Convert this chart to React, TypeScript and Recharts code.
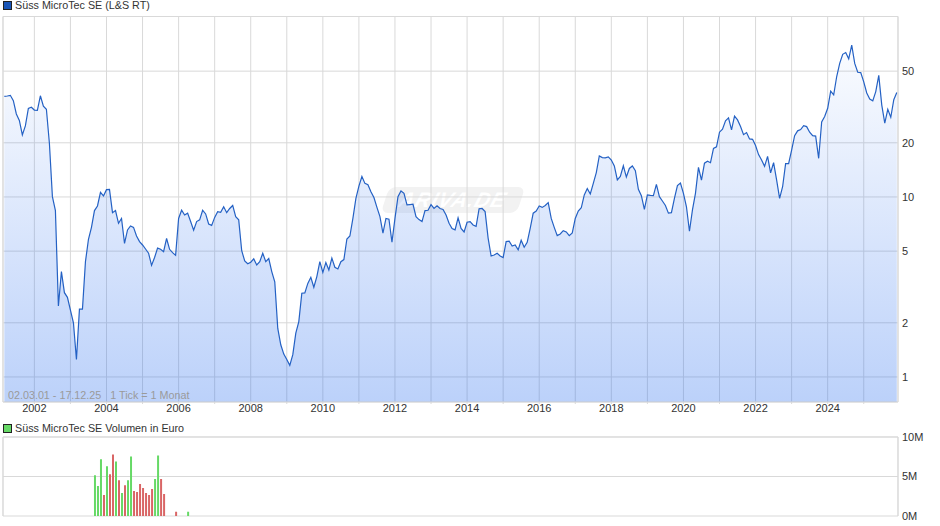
import React from "react";
import { ComposedChart, Area, Bar, XAxis, YAxis, CartesianGrid, ReferenceLine } from "recharts";

const TITLE = "Süss MicroTec SE (L&S RT)";
const VOLUME_TITLE = "Süss MicroTec SE Volumen in Euro";
const RANGE_NOTE = "02.03.01 - 17.12.25   1 Tick = 1 Monat";
const WATERMARK = "ARIVA.DE";

// Monthly closes, index 0 = March 2001, last = December 2025
const prices2001to2009 = [
  36.2, 36.4, 36.7, 34.3, 28.9, 26.6, 22.1, 24.8, 31.0, 31.5,
  30.4, 30.3, 36.5, 31.9, 30.7, 19.9, 10.04, 8.4, 2.48, 3.85, 2.94, 2.77,
  2.35, 2.0, 1.25, 2.38, 2.38, 4.37, 5.82, 6.78, 8.4, 8.91, 10.6, 10.13,
  10.98, 11.03, 8.18, 8.4, 7.14, 7.6, 5.52, 6.56, 6.9, 6.78, 6.07, 5.65,
  5.41, 5.14, 4.87, 4.17, 4.61, 5.2, 5.12, 4.97, 5.88, 5.12, 4.91, 4.74,
  7.6, 8.44, 7.94, 8.13, 7.3, 6.53, 7.3, 7.46, 8.44, 8.05, 7.08, 6.95,
  7.7, 8.29, 8.21, 8.82, 8.18, 8.63, 8.97, 7.78, 7.46, 5.03, 4.41, 4.26,
  4.34, 4.53, 4.19, 4.37, 4.87, 4.37, 4.55, 3.85, 3.38, 1.86, 1.51, 1.34,
  1.25, 1.16, 1.33, 1.75, 2.03, 2.92, 2.93, 3.31, 3.58, 3.15, 3.61, 4.37,
];
const prices2010to2018 = [
  3.81, 4.32, 3.93, 4.57, 4.07, 3.98, 4.37, 4.49, 5.84, 6.07, 7.6, 9.83,
  11.5, 13.0, 11.9, 11.7, 10.7, 9.92, 8.75, 7.78, 6.29, 7.6, 7.53, 5.6,
  7.6, 10.04, 10.8, 10.48, 9.03, 9.07, 9.11, 7.78, 7.49, 7.3, 8.4, 8.44,
  9.07, 8.63, 8.93, 8.63, 8.52, 7.94, 7.14, 6.67, 6.56, 7.66, 6.69, 6.39,
  7.24, 7.3, 6.99, 6.87, 8.6, 8.63, 8.29, 5.91, 4.7, 4.76, 4.87, 4.7,
  4.61, 5.65, 5.68, 5.34, 5.41, 5.08, 5.75, 5.26, 5.6, 6.69, 8.13, 8.36,
  8.91, 8.75, 8.97, 9.3, 7.6, 6.78, 6.1, 6.23, 6.5, 6.39, 6.1, 6.31,
  7.6, 8.36, 8.71, 10.26, 11.13, 10.39, 11.9, 13.66, 16.9, 16.55, 16.5, 16.7,
  16.05, 14.87, 12.44, 13.0, 14.9, 12.9, 14.4, 14.87, 14.0, 11.03, 10.17, 8.52,
];
const prices2019to2025 = [
  10.26, 10.2, 10.17, 11.76, 10.04, 9.5, 8.97, 8.13, 8.18, 9.83, 11.56, 11.96,
  10.48, 8.82, 6.45, 8.48, 10.48, 14.6, 12.4, 15.4, 15.8, 15.5, 18.6, 19.0,
  22.9, 23.8, 26.5, 27.5, 23.6, 28.1, 26.8, 24.6, 22.2, 22.8, 21.0, 20.9,
  19.3, 17.2, 16.05, 14.8, 16.8, 13.6, 15.5, 12.44, 9.83, 11.4, 15.3, 15.3,
  18.2, 21.9, 23.3, 23.7, 24.9, 24.6, 22.9, 21.9, 21.8, 16.4, 26.1, 28.0,
  31.1, 38.7, 36.9, 46.7, 55.2, 62.0, 63.4, 58.5, 69.7, 55.2, 49.3, 49.1,
  43.6, 37.8, 35.0, 34.2, 38.5, 47.4, 32.4, 25.7, 30.7, 27.7, 34.7, 38.1,
];
const prices = [...prices2001to2009, ...prices2010to2018, ...prices2019to2025];

// Volume bars: month index (same counting as prices) and millions of euro
const volumeMonths = [30, 31, 32, 33, 34, 35, 36, 37, 38, 39, 40, 41, 42, 43, 44, 45, 46, 47, 48, 49, 50, 51, 52, 53, 57, 61];
const volumeValues = [5.17, 3.8, 7.17, 2.67, 6.3, 5.3, 7.8, 6.9, 4.54, 2.9, 3.9, 4.54, 7.54, 3.17, 3.04, 4.04, 3.54, 2.9, 2.67, 3.42, 4.67, 7.67, 4.67, 2.8, 0.54, 0.54];
const volumeRising = [1, 1, 1, 0, 1, 0, 0, 1, 0, 1, 0, 1, 1, 0, 0, 0, 0, 0, 0, 0, 1, 1, 0, 0, 0, 1];

const firstJanuaryIndex = 10;
const years = [2002, 2003, 2004, 2005, 2006, 2007, 2008, 2009, 2010, 2011, 2012, 2013, 2014, 2015, 2016, 2017, 2018, 2019, 2020, 2021, 2022, 2023, 2024, 2025];
const priceTicks = [1, 2, 5, 10, 20, 50];
const volumeTicks = [0, 5, 10];

const yearTicks = years.map((y) => firstJanuaryIndex + (y - years[0]) * 12);
const priceData = prices.map((p, m) => ({ m, p }));
const volumeData = volumeMonths.map((m, i) => ({
  m,
  up: volumeRising[i] ? volumeValues[i] : null,
  down: volumeRising[i] ? null : volumeValues[i],
}));

const X_DOMAIN: [number, number] = [-0.44, 297.4];
const Y_DOMAIN: [number, number] = [0.726, 100.6];
const GRID = "#d9d9d9";
const FONT = "'Liberation Sans', Arial, sans-serif";
const tickStyle = { fontSize: 11, fill: "#333", fontFamily: FONT };
const yearLabel = (m: number) => {
  const y = years[0] + (m - firstJanuaryIndex) / 12;
  return y % 2 === 0 ? String(y) : "";
};

const Legend = ({ top, color, text }: { top: number; color: string; text: string }) => (
  <div style={{ position: "absolute", left: 3, top, display: "flex", alignItems: "center", height: 12, fontFamily: FONT, fontSize: 10.75, color: "#333", whiteSpace: "pre" }}>
    <span style={{ display: "inline-block", width: 7, height: 7, background: color, border: "1px solid #222", marginRight: 3 }} />
    {text}
  </div>
);

export default function App() {
  return (
    <div style={{ position: "absolute", left: 0, top: 0, width: 940, height: 526, background: "#fff", overflow: "hidden" }}>
      <Legend top={-1} color="#1a56b8" text={TITLE} />
      <Legend top={422} color="#66d966" text={VOLUME_TITLE} />

      <div
        style={{
          position: "absolute",
          left: 385,
          top: 187,
          width: 136,
          height: 26,
          background: "#f2f2f2",
          borderRadius: 7,
          transform: "skewX(-18deg)",
          color: "#fff",
          fontFamily: FONT,
          fontWeight: 700,
          fontStyle: "italic",
          fontSize: 21,
          lineHeight: "26px",
          textAlign: "center",
          letterSpacing: 1,
        }}
      >
        {WATERMARK}
      </div>

      <ComposedChart
        width={940}
        height={420}
        data={priceData}
        margin={{ top: 16.5, left: 3, right: 0, bottom: 0 }}
        style={{ position: "absolute", left: 0, top: 0 }}
      >
        <defs>
          <linearGradient id="priceFill" x1="0" y1="0" x2="0" y2="1">
            <stop offset="0%" stopColor="#1e66ee" stopOpacity={0.02} />
            <stop offset="100%" stopColor="#1e66ee" stopOpacity={0.3} />
          </linearGradient>
        </defs>
        <CartesianGrid stroke={GRID} />
        <XAxis
          dataKey="m"
          type="number"
          domain={X_DOMAIN}
          allowDataOverflow
          ticks={yearTicks}
          interval={0}
          tickFormatter={yearLabel}
          tick={tickStyle}
          tickLine={{ stroke: GRID }}
          tickSize={2}
          tickMargin={0}
          height={18}
          axisLine={{ stroke: GRID }}
        />
        <YAxis
          orientation="right"
          scale="log"
          domain={Y_DOMAIN}
          allowDataOverflow
          ticks={priceTicks}
          interval={0}
          tick={tickStyle}
          tickLine={false}
          tickSize={0}
          tickMargin={4}
          width={42}
          axisLine={{ stroke: GRID }}
        />
        <ReferenceLine x={X_DOMAIN[0]} stroke={GRID} />
        <ReferenceLine y={Y_DOMAIN[1]} stroke={GRID} />
        <Area
          dataKey="p"
          type="linear"
          stroke="#2461c4"
          strokeWidth={1.2}
          fill="url(#priceFill)"
          fillOpacity={1}
          baseValue={Y_DOMAIN[0]}
          dot={false}
          activeDot={false}
          isAnimationActive={false}
        />
      </ComposedChart>

      <div style={{ position: "absolute", left: 8, top: 389, fontFamily: FONT, fontSize: 10.75, color: "#9a9a9a", whiteSpace: "pre" }}>
        {RANGE_NOTE}
      </div>

      <ComposedChart
        width={940}
        height={526}
        data={volumeData}
        margin={{ top: 437, left: 3, right: 0, bottom: 10 }}
        style={{ position: "absolute", left: 0, top: 0 }}
      >
        <CartesianGrid stroke={GRID} />
        <XAxis
          dataKey="m"
          type="number"
          domain={X_DOMAIN}
          allowDataOverflow
          ticks={yearTicks}
          interval={0}
          tick={false}
          tickLine={false}
          height={0}
          axisLine={{ stroke: GRID }}
        />
        <YAxis
          orientation="right"
          domain={[0, 10]}
          ticks={volumeTicks}
          interval={0}
          tickFormatter={(v: number) => `${v}M`}
          tick={tickStyle}
          tickLine={false}
          tickSize={0}
          tickMargin={4}
          width={42}
          axisLine={{ stroke: GRID }}
        />
        <ReferenceLine x={X_DOMAIN[0]} stroke={GRID} />
        <ReferenceLine y={10} stroke={GRID} />
        <Bar dataKey="up" stackId="v" fill="#66d966" barSize={2} isAnimationActive={false} />
        <Bar dataKey="down" stackId="v" fill="#d96666" barSize={2} isAnimationActive={false} />
      </ComposedChart>
    </div>
  );
}
